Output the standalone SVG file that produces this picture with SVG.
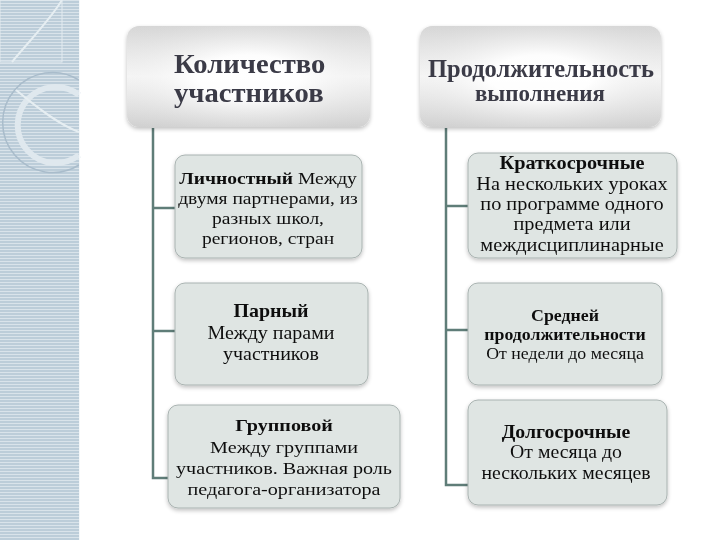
<svg xmlns="http://www.w3.org/2000/svg" width="720" height="540" viewBox="0 0 720 540">
<defs>
<pattern id="stripes" x="0" y="0" width="8" height="3" patternUnits="userSpaceOnUse">
<rect width="8" height="3" fill="#bccdd9"/>
<rect y="0" width="8" height="1" fill="#d9e3ea"/>
</pattern>
<linearGradient id="hdr" x1="0" y1="0" x2="0" y2="1">
<stop offset="0" stop-color="#d6d6d6"/>
<stop offset="0.5" stop-color="#ffffff"/>
<stop offset="1" stop-color="#d0d0d0"/>
</linearGradient>
<radialGradient id="hdr2" cx="0.5" cy="0.5" r="0.7">
<stop offset="0.3" stop-color="#ffffff" stop-opacity="0.9"/>
<stop offset="1" stop-color="#d0d0d0" stop-opacity="0"/>
</radialGradient>
<filter id="sh" x="-10%" y="-10%" width="120%" height="130%">
<feGaussianBlur in="SourceAlpha" stdDeviation="2"/>
<feOffset dx="0" dy="2"/>
<feComponentTransfer><feFuncA type="linear" slope="0.25"/></feComponentTransfer>
<feMerge><feMergeNode/><feMergeNode in="SourceGraphic"/></feMerge>
</filter>
</defs>
<style>
.hdr{fill:url(#hdr);}
.box{fill:#dfe5e3;stroke:#a9b3b1;stroke-width:1;}
.con{fill:none;stroke:#5f7d78;stroke-width:2.5;}
.t{font-family:"Liberation Serif","Times New Roman","DejaVu Serif",serif;fill:#111;text-anchor:middle;}
.h{font-family:"Liberation Serif","Times New Roman","DejaVu Serif",serif;fill:#3b3b47;font-weight:bold;}
.b{font-weight:bold;}
</style>
<rect width="720" height="540" fill="#ffffff"/>
<g id="sidebar">
<rect x="0" y="0" width="79" height="540" fill="url(#stripes)"/>
<rect x="0" y="0" width="62" height="62" fill="none" stroke="#e3ebf0" stroke-width="1"/>
<path d="M12 62 C 30 40, 50 20, 62 0" fill="none" stroke="#e6eef2" stroke-width="2"/>
<path d="M79 80 A 50 50 0 1 0 79 165" fill="none" stroke="#a9bccb" stroke-width="1.5"/>
<path d="M79 95 A 38 38 0 1 0 79 155" fill="none" stroke="#dfe8ee" stroke-width="6"/>
<path d="M16 90 C 40 110, 60 125, 79 132" fill="none" stroke="#e6eef2" stroke-width="2"/>
<line x1="79.5" y1="0" x2="79.5" y2="540" stroke="#f4f7f9" stroke-width="1"/>
</g>
<g id="connectors">
<path class="con" d="M153 128 V478 H168"/>
<line class="con" x1="153" y1="208" x2="175" y2="208"/>
<line class="con" x1="153" y1="331" x2="175" y2="331"/>
<path class="con" d="M446 128 V485 H468"/>
<line class="con" x1="446" y1="206" x2="468" y2="206"/>
<line class="con" x1="446" y1="330" x2="468" y2="330"/>
</g>
<g id="header1" filter="url(#sh)">
<rect class="hdr" x="127" y="26" width="243" height="101" rx="12"/>
<rect x="127" y="26" width="243" height="101" rx="12" fill="url(#hdr2)"/>
<g transform="translate(174 0) scale(1.06 1)">
<text class="h" x="0" y="73" font-size="27">Количество</text>
<text class="h" x="0" y="102" font-size="27">участников</text>
</g>
</g>
<g id="header2" filter="url(#sh)">
<rect class="hdr" x="420" y="26" width="241" height="101" rx="12"/>
<rect x="420" y="26" width="241" height="101" rx="12" fill="url(#hdr2)"/>
<text class="h" x="541" y="77" font-size="24.5" text-anchor="middle">Продолжительность</text>
<text class="h" x="540" y="101" font-size="23" text-anchor="middle">выполнения</text>
</g>
<g id="personal" filter="url(#sh)">
<rect class="box" x="175" y="155" width="187" height="103" rx="10"/>
<g transform="translate(268 0) scale(1.15 1)">
<text class="t" x="0" y="184" font-size="17"><tspan class="b">Личностный</tspan> Между</text>
<text class="t" x="0" y="204" font-size="17">двумя партнерами, из</text>
<text class="t" x="0" y="224" font-size="17">разных школ,</text>
<text class="t" x="0" y="244" font-size="17">регионов, стран</text>
</g>
</g>
<g id="pair" filter="url(#sh)">
<rect class="box" x="175" y="283" width="193" height="102" rx="10"/>
<g transform="translate(271 0) scale(1.11 1)">
<text class="t b" x="0" y="317" font-size="18">Парный</text>
<text class="t" x="0" y="339" font-size="18">Между парами</text>
<text class="t" x="0" y="360" font-size="18">участников</text>
</g>
</g>
<g id="group" filter="url(#sh)">
<rect class="box" x="168" y="405" width="232" height="103" rx="10"/>
<g transform="translate(284 0) scale(1.15 1)">
<text class="t b" x="0" y="431" font-size="17.5">Групповой</text>
<text class="t" x="0" y="453" font-size="17.5">Между группами</text>
<text class="t" x="0" y="474" font-size="17.5">участников. Важная роль</text>
<text class="t" x="0" y="495" font-size="17.5">педагога-организатора</text>
</g>
</g>
<g id="short" filter="url(#sh)">
<rect class="box" x="468" y="153" width="209" height="105" rx="10"/>
<g transform="translate(572 0) scale(1.07 1)">
<text class="t b" x="0" y="169" font-size="19">Краткосрочные</text>
<text class="t" x="0" y="190" font-size="19">На нескольких уроках</text>
<text class="t" x="0" y="210" font-size="19">по программе одного</text>
<text class="t" x="0" y="230" font-size="19">предмета или</text>
<text class="t" x="0" y="251" font-size="19">междисциплинарные</text>
</g>
</g>
<g id="medium" filter="url(#sh)">
<rect class="box" x="468" y="283" width="194" height="102" rx="10"/>
<g transform="translate(565 0) scale(1.08 1)">
<text class="t b" x="0" y="321" font-size="16.5">Средней</text>
<text class="t b" x="0" y="340" font-size="16.5">продолжительности</text>
<text class="t" x="0" y="359" font-size="16.5">От недели до месяца</text>
</g>
</g>
<g id="long" filter="url(#sh)">
<rect class="box" x="468" y="400" width="199" height="105" rx="10"/>
<g transform="translate(566 0) scale(1.1 1)">
<text class="t b" x="0" y="438" font-size="18">Долгосрочные</text>
<text class="t" x="0" y="458" font-size="18">От месяца до</text>
<text class="t" x="0" y="479" font-size="18">нескольких месяцев</text>
</g>
</g>
</svg>
